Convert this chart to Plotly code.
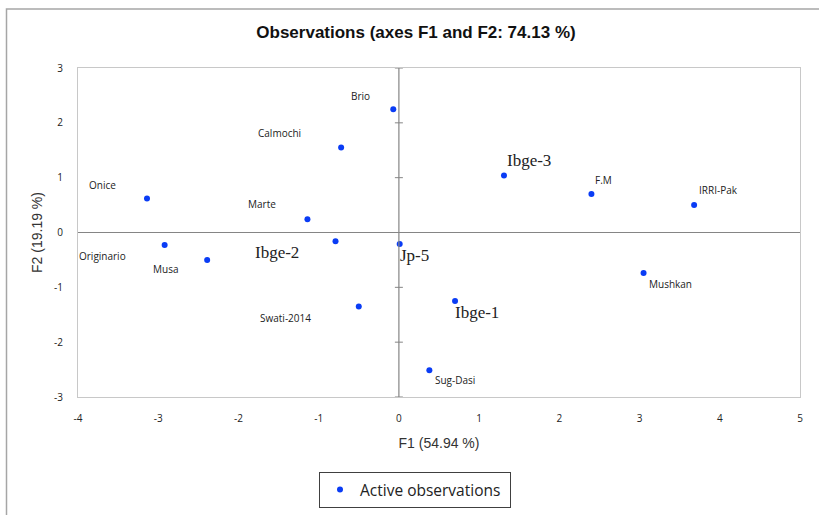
import plotly.graph_objects as go

# ---- data ----
names = ["Brio", "Calmochi", "Onice", "Marte", "Originario", "Musa", "Ibge-2", "Jp-5",
         "Swati-2014", "Ibge-3", "F.M", "IRRI-Pak", "Mushkan", "Ibge-1", "Sug-Dasi"]
f1 = [-0.07, -0.72, -3.14, -1.14, -2.92, -2.39, -0.79, 0.01,
      -0.50, 1.31, 2.40, 3.68, 3.05, 0.70, 0.38]
f2 = [2.25, 1.55, 0.62, 0.24, -0.23, -0.50, -0.16, -0.21,
      -1.35, 1.04, 0.70, 0.50, -0.74, -1.25, -2.51]
x_ticks = [-4, -3, -2, -1, 0, 1, 2, 3, 4, 5]
x_tick_labels = ["-4", "-3", "-2", "-1", "0", "1", "2", "3", "4", "5"]
y_ticks = [-3, -2, -1, 0, 1, 2, 3]
y_tick_labels = ["-3", "-2", "-1", "0", "1", "2", "3"]

# ---- label styling (pixel offsets from each point) ----
label_dx = [-33, -62, -44, -45, -62, -42, -59, 15, -73, 25, 12, 24, 27, 22, 26]
label_dy = [13, 15, 14, 15, -11, -9, -11, -11, -11, 15, 14, 15, -11, -11, -10]
serif_labels = {"Ibge-1", "Ibge-2", "Ibge-3", "Jp-5"}

BLUE = "#0A3CF5"
TICKFONT = dict(family="Open Sans, Lato, sans-serif", size=10, color="#222")

fig = go.Figure()
fig.add_trace(go.Scatter(
    x=f1, y=f2, mode="markers", name="Active observations\u00a0",
    marker=dict(color=BLUE, size=6), showlegend=True, hoverinfo="text", text=names))

annotations = []
for n, x, y, dx, dy in zip(names, f1, f2, label_dx, label_dy):
    if n in serif_labels:
        font = dict(family="Liberation Serif, DejaVu Serif, serif", size=17, color="#222")
    else:
        font = dict(family="Open Sans, Lato, sans-serif", size=10, color="#222")
    annotations.append(dict(x=x, y=y, xref="x", yref="y", text=n, showarrow=False,
                            xshift=dx, yshift=dy, font=font))

shapes = []
# zero axes
shapes.append(dict(type="line", xref="x", yref="y", x0=0, x1=0, y0=-3, y1=3,
                   line=dict(color="#858585", width=1.2)))
shapes.append(dict(type="line", xref="x", yref="y", x0=-4, x1=5, y0=0, y1=0,
                   line=dict(color="#858585", width=1.2)))
# tick marks crossing the vertical zero axis
for t in y_ticks:
    shapes.append(dict(type="line", xref="x", yref="y", xsizemode="pixel", xanchor=0,
                       x0=-4, x1=4, y0=t, y1=t, line=dict(color="#858585", width=1)))
# outer chart frame
shapes.append(dict(type="rect", xref="paper", yref="paper",
                   x0=(6.5 - 78) / 722, x1=(840 - 78) / 722,
                   y0=(397 - 540) / 329, y1=(397 - 9) / 329,
                   line=dict(color="#A6A6A6", width=1.5), layer="below"))

fig.update_layout(
    width=819, height=515,
    margin=dict(l=78, r=19, t=68, b=118, autoexpand=False),
    paper_bgcolor="white", plot_bgcolor="white",
    title=dict(text="<b>Observations (axes F1 and F2: 74.13 %)</b>",
               x=(416 - 78) / 722, xref="paper", xanchor="center", y=1 - 32 / 515, yanchor="middle",
               font=dict(family="Liberation Sans Narrow, Liberation Sans, Arial", size=17, color="#111")),
    xaxis=dict(range=[-4, 5], tickvals=x_ticks, ticktext=x_tick_labels, showgrid=False, zeroline=False,
               showline=True, mirror=True, linecolor="#C8C8C8", linewidth=1,
               ticks="", ticklabelstandoff=12, tickfont=TICKFONT,
               title=dict(text="F1 (54.94 %)", standoff=14,
                          font=dict(family="Liberation Sans, Arial", size=14, color="#333"))),
    yaxis=dict(range=[-3, 3], tickvals=y_ticks, ticktext=y_tick_labels, showgrid=False, zeroline=False,
               showline=True, mirror=True, linecolor="#C8C8C8", linewidth=1,
               ticks="", ticklabelstandoff=12, tickfont=TICKFONT,
               title=dict(text="F2 (19.19 %)", standoff=8,
                          font=dict(family="Liberation Sans, Arial", size=14, color="#333"))),
    legend=dict(x=(319 - 78) / 722, y=(397 - 472) / 329, xanchor="left", yanchor="top",
                bordercolor="#404040", borderwidth=1, bgcolor="white",
                font=dict(family="Open Sans, Lato, sans-serif", size=15.5, color="#222"),
                itemwidth=30),
    annotations=annotations,
    shapes=shapes,
)

fig.write_html("out.html")
